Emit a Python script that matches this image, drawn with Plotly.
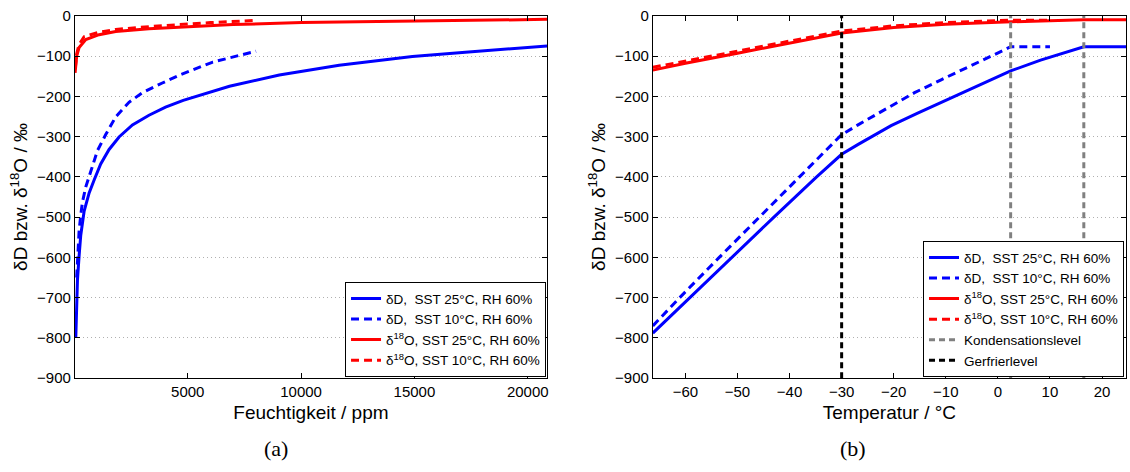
import plotly.graph_objects as go

# ---------------- Panel (a): humidity (ppm) vs delta ----------------
hum_dD_25 = [60, 90, 135, 205, 280, 430, 650, 870, 1160, 1530, 1970, 2560, 3290, 4020, 4800, 6840, 9040, 11680, 14910, 17110, 19600, 20850]
dD_25_a = [-800, -735, -655, -598, -545, -485, -440, -408, -368, -332, -301, -271, -247, -227, -210, -175, -147, -123, -101, -91, -80, -75]

hum_dD_10 = [100, 136, 207, 282, 356, 502, 647, 1016, 1382, 1822, 2408, 2997, 3877, 4700, 6105, 8014]
dD_10_a = [-650, -598, -534, -494, -462, -425, -398, -335, -295, -251, -215, -191, -167, -146, -115, -88]

hum_d18O_25 = [30, 45, 62, 100, 207, 502, 1088, 1822, 3288, 4903, 7000, 10030, 15000, 20850]
d18O_25_a = [-142, -130, -120, -100, -79, -59, -47, -39, -32, -27, -22, -17, -12.5, -9]

hum_d18O_10 = [40, 60, 100, 200, 427, 1088, 1822, 3288, 4317, 6000, 7900]
d18O_10_a = [-130, -115, -95, -72, -52, -41, -34, -27, -23, -17, -12]

# ---------------- Panel (b): temperature (°C) vs delta ----------------
T_dD_25 = [-66.25, -59.2, -51.1, -43.0, -34.8, -30.0, -26.9, -20.5, -15.4, -10.3, -4.55, 2.45, 8.2, 16.5, 24.6]
dD_25_b = [-788, -700, -600, -500, -400, -344, -320, -273, -242, -212, -178, -137, -110, -77, -77]

T_dD_10 = [-66.25, -61.1, -53.5, -45.8, -38.1, -30.06, -26.86, -20.5, -16.0, -10.9, -6.46, -1.4, 2.45, 10.0]
dD_10_b = [-770, -700, -600, -500, -400, -296, -271, -223, -191, -159, -131, -101, -77, -77]

T_d18O_25 = [-66.25, -60, -50, -40, -30, -20, -10, 0, 10, 16.5, 24.6]
d18O_25_b = [-135, -118, -93, -68, -43, -29, -21, -16, -12, -10, -10]

T_d18O_10 = [-66.25, -60, -50, -40, -30, -20, -10, 0, 2.45, 10]
d18O_10_b = [-128, -112, -88, -63, -38, -25, -17, -12, -11, -11]

cond_levels = [2.45, 16.5]
freeze_levels = [-30.0]
y_span = [-900, 0]

x_ticks_a = [5000, 10000, 15000, 20000]
x_ticktext_a = ["5000", "10000", "15000", "20000"]
x_ticks_b = [-60, -50, -40, -30, -20, -10, 0, 10, 20]

names = [
    "δD,\u00a0\u00a0SST 25°C, RH 60%",
    "δD,\u00a0\u00a0SST 10°C, RH 60%",
    "δ<sup>18</sup>O, SST 25°C, RH 60%",
    "δ<sup>18</sup>O, SST 10°C, RH 60%",
    "Kondensationslevel",
    "Gerfrierlevel",
]

FONT = "Liberation Sans, Arial, sans-serif"
BLUE = "#0000ff"
RED = "#ff0000"
DASH = "8px,5px"
VDASH = "6px,4px"
LW = 3

fig = go.Figure()

series_a = [
    (hum_dD_25, dD_25_a, BLUE, "solid"),
    (hum_dD_10, dD_10_a, BLUE, DASH),
    (hum_d18O_25, d18O_25_a, RED, "solid"),
    (hum_d18O_10, d18O_10_a, RED, DASH),
]
for i, (x, y, c, d) in enumerate(series_a):
    fig.add_trace(go.Scatter(x=x, y=y, mode="lines", name=names[i],
                             line=dict(color=c, width=LW, dash=d),
                             xaxis="x", yaxis="y", legend="legend",
                             legendgroup="a%d" % i))

series_b = [
    (T_dD_25, dD_25_b, BLUE, "solid"),
    (T_dD_10, dD_10_b, BLUE, DASH),
    (T_d18O_25, d18O_25_b, RED, "solid"),
    (T_d18O_10, d18O_10_b, RED, DASH),
]
for i, (x, y, c, d) in enumerate(series_b):
    fig.add_trace(go.Scatter(x=x, y=y, mode="lines", name=names[i],
                             line=dict(color=c, width=LW, dash=d),
                             xaxis="x2", yaxis="y2", legend="legend2",
                             legendgroup="b%d" % i))


def vlines(levels):
    xs, ys = [], []
    for v in levels:
        xs += [v, v, None]
        ys += [y_span[0], y_span[1], None]
    return xs, ys


for j, (levels, col) in enumerate([(cond_levels, "#808080"), (freeze_levels, "#000000")]):
    xs, ys = vlines(levels)
    fig.add_trace(go.Scatter(x=xs, y=ys, mode="lines", name=names[4 + j],
                             line=dict(color=col, width=LW, dash=VDASH),
                             xaxis="x2", yaxis="y2", legend="legend2",
                             legendgroup="v%d" % j))

W, H = 1130, 472
ydom = [1 - 383 / H, 1 - 7 / H]

axis_common = dict(
    ticks="inside", ticklen=5, tickcolor="black", tickwidth=1,
    showline=True, linecolor="black", linewidth=1, mirror="ticks",
    zeroline=False, tickfont=dict(family=FONT, size=15, color="black"),
    ticklabeloverflow="allow",
)
yaxis_common = dict(
    axis_common, range=[-900, 0], tick0=0, dtick=100,
    showgrid=True, gridcolor="#b0b0b0", gridwidth=1, griddash="1px,3px",
    title=dict(text="δD bzw. δ<sup>18</sup>O / ‰", font=dict(family=FONT, size=19, color="black"), standoff=4),
)
legend_common = dict(
    bgcolor="white", bordercolor="black", borderwidth=1,
    font=dict(family=FONT, size=13.5, color="black"),
    itemwidth=30, traceorder="grouped", tracegroupgap=0,
    xanchor="right", yanchor="bottom",
)

fig.update_layout(
    width=W, height=H, autosize=False,
    margin=dict(l=0, r=0, t=0, b=0),
    paper_bgcolor="white", plot_bgcolor="white",
    font=dict(family=FONT, color="black"),
    showlegend=True,
    xaxis=dict(axis_common, domain=[75 / W, 548 / W], range=[20, 20850],
               tickvals=x_ticks_a, ticktext=x_ticktext_a, showgrid=False, anchor="y",
               title=dict(text="Feuchtigkeit / ppm", font=dict(family=FONT, size=19, color="black"), standoff=6)),
    yaxis=dict(yaxis_common, domain=ydom, anchor="x"),
    xaxis2=dict(axis_common, domain=[654 / W, 1128 / W], range=[-66.25, 24.6],
                tickvals=x_ticks_b, showgrid=False, anchor="y2",
                title=dict(text="Temperatur / °C", font=dict(family=FONT, size=19, color="black"), standoff=6)),
    yaxis2=dict(yaxis_common, domain=ydom, anchor="x2"),
    legend=dict(legend_common, x=547 / W, y=1 - 382 / H),
    legend2=dict(legend_common, x=1126 / W, y=1 - 382 / H),
    annotations=[
        dict(text="(a)", x=276 / W, y=1 - 456 / H, xref="paper", yref="paper",
             xanchor="center", yanchor="middle", showarrow=False,
             font=dict(family="Liberation Serif, DejaVu Serif, serif", size=22, color="black")),
        dict(text="(b)", x=855 / W, y=1 - 456 / H, xref="paper", yref="paper",
             xanchor="center", yanchor="middle", showarrow=False,
             font=dict(family="Liberation Serif, DejaVu Serif, serif", size=22, color="black")),
    ],
)

fig.write_html("out.html")
